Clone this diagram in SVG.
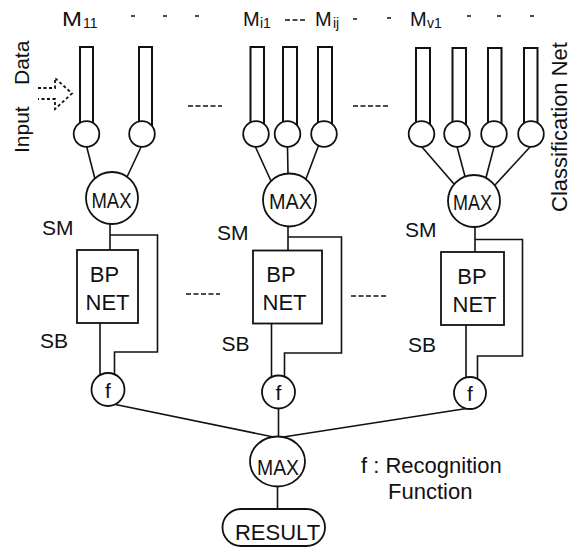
<svg xmlns="http://www.w3.org/2000/svg" width="578" height="549" viewBox="0 0 578 549">
<style>
.ln{stroke:#111;stroke-width:1.6;fill:none}
.tube{stroke:#111;stroke-width:2;fill:none}
.nd{fill:#fff;stroke:#111;stroke-width:1.8}
.dots{stroke:#111;stroke-width:1.5;stroke-dasharray:5 2.5;fill:none}
.dash{stroke:#111;stroke-width:1.5}
.t{font-family:"Liberation Sans",Arial,sans-serif;fill:#111}
.lab{font-size:21px}
.big{font-size:22px;text-anchor:middle}
.mx{font-size:22px;text-anchor:middle}
.sub{font-size:14px}
</style>
<rect width="578" height="549" fill="#fff"/>

<!-- header labels -->
<g id="header" class="t">
  <text x="62" y="26" font-size="20" textLength="20" lengthAdjust="spacingAndGlyphs">M</text><text x="83" y="28" class="sub">11</text>
  <text x="243" y="26" font-size="20">M</text><text x="260" y="28" class="sub">i1</text>
  <text x="315" y="26" font-size="20">M</text><text x="333" y="28" class="sub">ij</text>
  <text x="410" y="26" font-size="20">M</text><text x="427" y="28" class="sub">v1</text>
</g>
<g id="header-dashes">
  <line class="dash" x1="131" y1="16" x2="135" y2="16"/>
  <line class="dash" x1="163" y1="16" x2="167" y2="16"/>
  <line class="dash" x1="195" y1="16" x2="199" y2="16"/>
  <line class="dots" x1="285" y1="20" x2="305" y2="20"/>
  <line class="dash" x1="353" y1="19" x2="357" y2="19"/>
  <line class="dash" x1="387" y1="18" x2="391" y2="18"/>
  <line class="dash" x1="467" y1="16" x2="471" y2="16"/>
  <line class="dash" x1="497" y1="16" x2="501" y2="16"/>
  <line class="dash" x1="530" y1="16" x2="534" y2="16"/>
</g>

<!-- side labels -->
<g id="input-data">
  <text class="t lab" transform="translate(29,153) rotate(-90)">Input</text>
  <text class="t lab" transform="translate(29,85) rotate(-90)">Data</text>
  <path d="M38,88 H55 V78 L72,93.5 L55,109 V99 H38" fill="none" stroke="#111" stroke-width="1.8" stroke-dasharray="3 2.5"/>
</g>
<text id="classification-label" class="t" font-size="22" transform="translate(567,212) rotate(-90)">Classification Net</text>

<!-- ellipsis runs -->
<g id="ellipses">
  <line class="dots" x1="188" y1="106" x2="222" y2="106"/>
  <line class="dots" x1="353" y1="106" x2="388" y2="106"/>
  <line class="dots" x1="186" y1="294" x2="220" y2="294"/>
  <line class="dots" x1="351" y1="296" x2="386" y2="296"/>
</g>

<!-- connectors -->
<g id="connectors" class="ln">
  <path d="M86.5,146 L95,179"/>
  <path d="M141.5,146 L127,177"/>
  <path d="M255,146 L271,181"/>
  <path d="M287.5,146.5 L288,174"/>
  <path d="M318.5,145.5 L306,179"/>
  <path d="M421.5,146.5 L454,184"/>
  <path d="M457,146.5 L465,176.5"/>
  <path d="M494,147 L486,177.5"/>
  <path d="M530,147 L495,185"/>
  <!-- group 1 -->
  <path d="M110,222 V250"/>
  <path d="M110,235 H157.5 V352 H114.5 V380"/>
  <path d="M100,323 V380"/>
  <!-- group 2 -->
  <path d="M288,225 V250.5"/>
  <path d="M288,237 H341.5 V353 H284.5 V383"/>
  <path d="M271.5,323.5 V383"/>
  <!-- group 3 -->
  <path d="M475,226 V252"/>
  <path d="M475,239.5 H522.5 V356 H477.5 V384"/>
  <path d="M466,325 V384"/>
  <!-- to final MAX -->
  <path d="M113,404 L276,437.5"/>
  <path d="M473,407.5 L280,437.5"/>
  <path d="M278.5,400 V437"/>
  <path d="M277.5,480 V509"/>
</g>

<!-- classification units -->
<g id="unit-1-1"><path class="tube" d="M80,134 V47 H93 V134"/><circle class="nd" cx="86.5" cy="134" r="12.8"/></g>
<g id="unit-1-2"><path class="tube" d="M139,134 V47 H152 V134"/><circle class="nd" cx="142" cy="134" r="12.8"/></g>
<g id="unit-2-1"><path class="tube" d="M250.5,134 V47 H264 V134"/><circle class="nd" cx="256" cy="134" r="12.8"/></g>
<g id="unit-2-2"><path class="tube" d="M283,134 V47 H297 V134"/><circle class="nd" cx="287.5" cy="134" r="12.8"/></g>
<g id="unit-2-3"><path class="tube" d="M318,134 V47 H332 V134"/><circle class="nd" cx="324" cy="134" r="12.8"/></g>
<g id="unit-3-1"><path class="tube" d="M416,134 V48 H430 V134"/><circle class="nd" cx="421.5" cy="134" r="12.8"/></g>
<g id="unit-3-2"><path class="tube" d="M452.5,134 V48 H466 V134"/><circle class="nd" cx="457" cy="134" r="12.8"/></g>
<g id="unit-3-3"><path class="tube" d="M488,134 V48 H501.5 V134"/><circle class="nd" cx="494" cy="134" r="12.8"/></g>
<g id="unit-3-4"><path class="tube" d="M524,134 V48 H537.5 V134"/><circle class="nd" cx="531" cy="134" r="12.8"/></g>

<!-- MAX nodes -->
<g id="max-1"><circle class="nd" cx="112" cy="198" r="26"/><text class="t mx" x="111.5" y="208" textLength="40" lengthAdjust="spacingAndGlyphs">MAX</text></g>
<g id="max-2"><circle class="nd" cx="289.5" cy="200" r="26.5"/><text class="t mx" x="290.5" y="208.5" textLength="43" lengthAdjust="spacingAndGlyphs">MAX</text></g>
<g id="max-3"><circle class="nd" cx="474" cy="201" r="26"/><text class="t mx" x="472.5" y="210" textLength="39" lengthAdjust="spacingAndGlyphs">MAX</text></g>

<!-- BP NET nodes -->
<g id="bp-1"><rect class="nd" x="77" y="250" width="61" height="73"/><text class="t big" x="104.5" y="282">BP</text><text class="t big" x="107.5" y="310">NET</text></g>
<g id="bp-2"><rect class="nd" x="253" y="250.5" width="69" height="73"/><text class="t big" x="281" y="282">BP</text><text class="t big" x="284.5" y="310">NET</text></g>
<g id="bp-3"><rect class="nd" x="441" y="252" width="63" height="73"/><text class="t big" x="472" y="283.5">BP</text><text class="t big" x="474.5" y="311.5">NET</text></g>

<!-- SM / SB labels -->
<g id="labels" class="t lab">
  <text x="42" y="235">SM</text>
  <text x="217" y="240">SM</text>
  <text x="405" y="237">SM</text>
  <text x="40" y="348">SB</text>
  <text x="221.5" y="351">SB</text>
  <text x="408" y="352">SB</text>
</g>

<!-- f nodes -->
<g id="f-1"><circle class="nd" cx="108" cy="389.5" r="16.5"/><text class="t" font-size="21" text-anchor="middle" x="108" y="397.5">f</text></g>
<g id="f-2"><circle class="nd" cx="278.5" cy="392" r="16.5"/><text class="t" font-size="21" text-anchor="middle" x="278.5" y="400">f</text></g>
<g id="f-3"><circle class="nd" cx="470" cy="393" r="16"/><text class="t" font-size="21" text-anchor="middle" x="470" y="401">f</text></g>

<!-- final MAX -->
<g id="max-final"><ellipse class="nd" cx="277.5" cy="461.5" rx="27.5" ry="25"/><text class="t mx" x="278" y="475" textLength="42" lengthAdjust="spacingAndGlyphs">MAX</text></g>

<!-- RESULT -->
<g id="result"><rect class="nd" x="222.5" y="509" width="102.5" height="37" rx="18.5"/><text class="t big" x="277.5" y="539.5">RESULT</text></g>

<!-- legend -->
<g id="legend" class="t" font-size="22">
  <text x="361" y="472.5">f : Recognition</text>
  <text x="388" y="499">Function</text>
</g>
</svg>
